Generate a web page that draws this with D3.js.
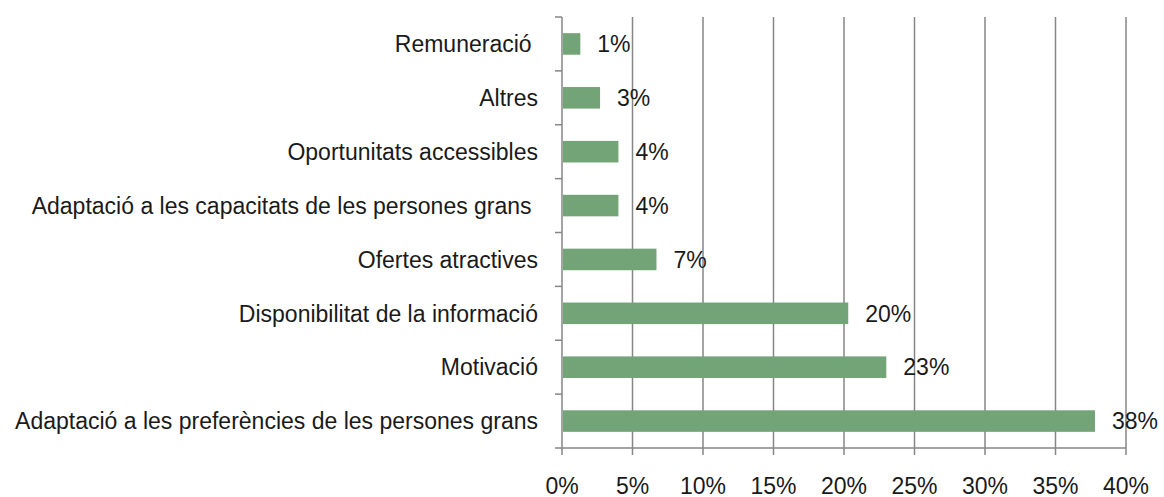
<!DOCTYPE html>
<html><head><meta charset="utf-8">
<script src="https://cdn.jsdelivr.net/npm/d3@7"></script>
<style>body{margin:0;background:#fff}svg{display:block}text{white-space:pre}</style>
</head><body>
<svg id="c" width="1164" height="497"></svg>
<script>
const categories = ["Remuneració ","Altres","Oportunitats accessibles","Adaptació a les capacitats de les persones grans ","Ofertes atractives","Disponibilitat de la informació","Motivació","Adaptació a les preferències de les persones grans"];
const values = [1.3, 2.7, 4.0, 4.0, 6.7, 20.3, 23.0, 37.8];
const valueLabels = ["1%","3%","4%","4%","7%","20%","23%","38%"];
const ticks = [0,5,10,15,20,25,30,35,40];

const svg = d3.select("#c");
const font = "'Liberation Sans', Arial, sans-serif";
const fs = 23;
const x = d3.scaleLinear().domain([0,40]).range([562,1126]);
const y = d3.scaleBand().domain(categories).range([17,448]).paddingInner(0.6).paddingOuter(0.3);
const yb = d3.scaleBand().domain(categories).range([17,448]);
const grid = "#868686";

// gridlines
svg.append("g").selectAll("line").data(ticks.slice(1)).join("line")
  .attr("x1",d=>x(d)).attr("x2",d=>x(d)).attr("y1",17).attr("y2",455)
  .attr("stroke",grid).attr("stroke-width",1.5);
// x axis line
svg.append("line").attr("x1",x(0)).attr("x2",x(40)).attr("y1",448).attr("y2",448).attr("stroke",grid).attr("stroke-width",1.5);
svg.append("line").attr("x1",x(0)).attr("x2",x(0)).attr("y1",448).attr("y2",455).attr("stroke",grid).attr("stroke-width",1.5);
// y axis
svg.append("line").attr("x1",x(0)).attr("x2",x(0)).attr("y1",17).attr("y2",448).attr("stroke",grid).attr("stroke-width",1.5);
const bounds = categories.map(c=>yb(c)).concat([448]);
svg.append("g").selectAll("line").data(bounds).join("line")
  .attr("x1",x(0)-7).attr("x2",x(0)).attr("y1",d=>d).attr("y2",d=>d)
  .attr("stroke",grid).attr("stroke-width",1.5);

// bars
svg.append("g").selectAll("rect").data(values).join("rect")
  .attr("x",x(0)+1).attr("y",(d,i)=>y(categories[i]))
  .attr("width",d=>x(d)-x(0)-1).attr("height",y.bandwidth())
  .attr("fill","#72a477");

// value labels
svg.append("g").selectAll("text").data(values).join("text")
  .attr("x",d=>x(d)+17).attr("y",(d,i)=>yb(categories[i])+yb.bandwidth()/2)
  .attr("dy","0.36em").attr("font-family",font).attr("font-size",fs).attr("fill","#1a1a1a")
  .text((d,i)=>valueLabels[i]);

// category labels
svg.append("g").selectAll("text").data(categories).join("text")
  .attr("x",538).attr("y",d=>yb(d)+yb.bandwidth()/2).attr("text-anchor","end")
  .attr("dy","0.36em").attr("font-family",font).attr("font-size",fs).attr("fill","#1a1a1a")
  .text(d=>d);

// tick labels
svg.append("g").selectAll("text").data(ticks).join("text")
  .attr("x",d=>x(d)).attr("y",494).attr("text-anchor","middle")
  .attr("font-family",font).attr("font-size",fs).attr("fill","#1a1a1a")
  .text(d=>d+"%");
</script>
</body></html>
